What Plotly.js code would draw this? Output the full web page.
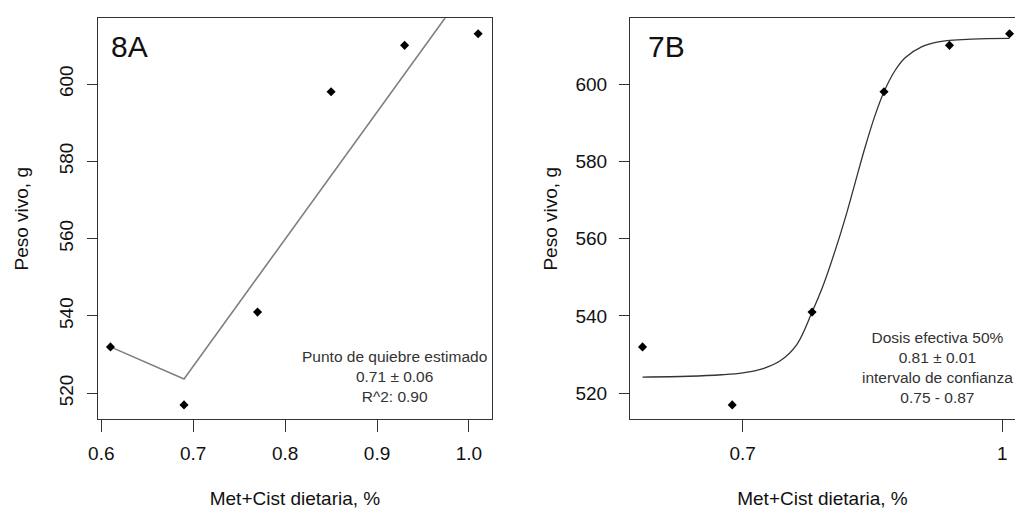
<!DOCTYPE html>
<html>
<head>
<meta charset="utf-8">
<script src="https://cdn.plot.ly/plotly-3.0.1.min.js"></script>
<style>html,body{margin:0;padding:0;background:#fff;overflow:hidden;}</style>
</head>
<body>
<div id="chart" style="width:1015px;height:509px;"></div>
<script>
// Observed data (both panels share the same points)
const metCist = [0.61, 0.69, 0.77, 0.85, 0.93, 1.01];
const pesoVivo = [532, 517, 541, 598, 610, 613];

// Panel 8A: segmented (broken-line) fitted values at the data doses
const fit8A = [532.0, 523.7, 550.0, 576.3, 602.6, 628.9];

// Panel 7B: fitted dose-response curve
const curveX = [0.610, 0.650, 0.680, 0.700, 0.720, 0.737, 0.754, 0.770, 0.782, 0.796, 0.808, 0.817, 0.828, 0.839, 0.850, 0.863, 0.875, 0.895, 0.916, 0.959, 1.010];
const curveY = [524.2, 524.4, 524.8, 525.3, 526.4, 528.4, 532.6, 541.0, 548.0, 557.8, 567.0, 574.5, 583.5, 591.5, 598.0, 603.5, 606.8, 609.6, 610.9, 611.6, 611.8];

const yTicks = [520, 540, 560, 580, 600];
const xTicksA = [0.6, 0.7, 0.8, 0.9, 1.0];
const xTickTextA = ['0.6', '0.7', '0.8', '0.9', '1.0'];
const xTicksB = [0.7, 1];
const xTickTextB = ['0.7', '1'];

const W = 1015, H = 509;
const px = v => v / W;
const py = v => 1 - v / H;
const FONT = 'Liberation Sans, Arial, sans-serif';
const INK = '#333333';

const traces = [
  {x: metCist, y: fit8A, mode: 'lines', line: {color: '#7f7f7f', width: 1.6}, xaxis: 'x', yaxis: 'y', hoverinfo: 'skip'},
  {x: metCist, y: pesoVivo, mode: 'markers', marker: {symbol: 'diamond', size: 7, color: '#000'}, xaxis: 'x', yaxis: 'y', cliponaxis: false},
  {x: curveX, y: curveY, mode: 'lines', line: {color: '#333', width: 1.3, shape: 'spline', smoothing: 1}, xaxis: 'x2', yaxis: 'y2', hoverinfo: 'skip'},
  {x: metCist, y: pesoVivo, mode: 'markers', marker: {symbol: 'diamond', size: 7, color: '#000'}, xaxis: 'x2', yaxis: 'y2', cliponaxis: false}
];

const axisCommon = {
  showgrid: false, zeroline: false, showline: true, linecolor: INK, linewidth: 1,
  ticks: 'outside', tickcolor: INK, tickwidth: 1,
  tickfont: {family: FONT, size: 19, color: '#111'}
};
const yDomain = [1 - 419.3 / H, 1 - 18.3 / H];
const yRange = [513.27, 617.0];

const layout = {
  width: W, height: H,
  margin: {l: 0, r: 0, t: 0, b: 0},
  paper_bgcolor: '#fff', plot_bgcolor: '#fff',
  showlegend: false,
  font: {family: FONT, color: '#111'},
  xaxis: Object.assign({}, axisCommon, {
    domain: [px(97.7), px(492.3)], range: [0.5961, 1.0254], anchor: 'y',
    tickvals: xTicksA, ticktext: xTickTextA, ticklen: 12, mirror: true,
    ticklabelstandoff: 5,
    title: {text: 'Met+Cist dietaria, %', font: {family: FONT, size: 19, color: '#111'}, standoff: 28}
  }),
  yaxis: Object.assign({}, axisCommon, {
    domain: yDomain, range: yRange, anchor: 'x',
    tickvals: yTicks, ticklen: 10, tickangle: -90, mirror: true,
    ticklabelstandoff: 6,
    title: {text: 'Peso vivo, g', font: {family: FONT, size: 19, color: '#111'}, standoff: 22}
  }),
  xaxis2: Object.assign({}, axisCommon, {
    domain: [px(630), 1], type: 'log', range: [-0.22215, 0.00758], anchor: 'y2',
    tickvals: xTicksB, ticktext: xTickTextB, ticklen: 12, mirror: true,
    ticklabelstandoff: 5,
    title: {text: 'Met+Cist dietaria, %', font: {family: FONT, size: 19, color: '#111'}, standoff: 28}
  }),
  yaxis2: Object.assign({}, axisCommon, {
    domain: yDomain, range: yRange, anchor: 'x2',
    tickvals: yTicks, ticklen: 10, mirror: false,
    ticklabelstandoff: 8,
    title: {text: 'Peso vivo, g', font: {family: FONT, size: 19, color: '#111'}, standoff: 12}
  }),
  annotations: [
    {text: '8A', xref: 'paper', yref: 'paper', x: px(109), y: py(46), xanchor: 'left', yanchor: 'middle', showarrow: false, font: {family: FONT, size: 30, color: '#111'}},
    {text: '7B', xref: 'paper', yref: 'paper', x: px(646), y: py(46), xanchor: 'left', yanchor: 'middle', showarrow: false, font: {family: FONT, size: 30, color: '#111'}},
    {text: 'Punto de quiebre estimado<br>0.71 ± 0.06<br>R^2: 0.90', xref: 'paper', yref: 'paper', x: px(394.5), y: py(376), xanchor: 'center', yanchor: 'middle', align: 'center', showarrow: false, font: {family: FONT, size: 15.5, color: '#333'}},
    {text: 'Dosis efectiva 50%<br>0.81 ± 0.01<br>intervalo de confianza<br>0.75 - 0.87', xref: 'paper', yref: 'paper', x: px(937.5), y: py(367), xanchor: 'center', yanchor: 'middle', align: 'center', showarrow: false, font: {family: FONT, size: 15.5, color: '#333'}}
  ]
};

Plotly.newPlot('chart', traces, layout, {displayModeBar: false, staticPlot: true});
</script>
</body>
</html>
